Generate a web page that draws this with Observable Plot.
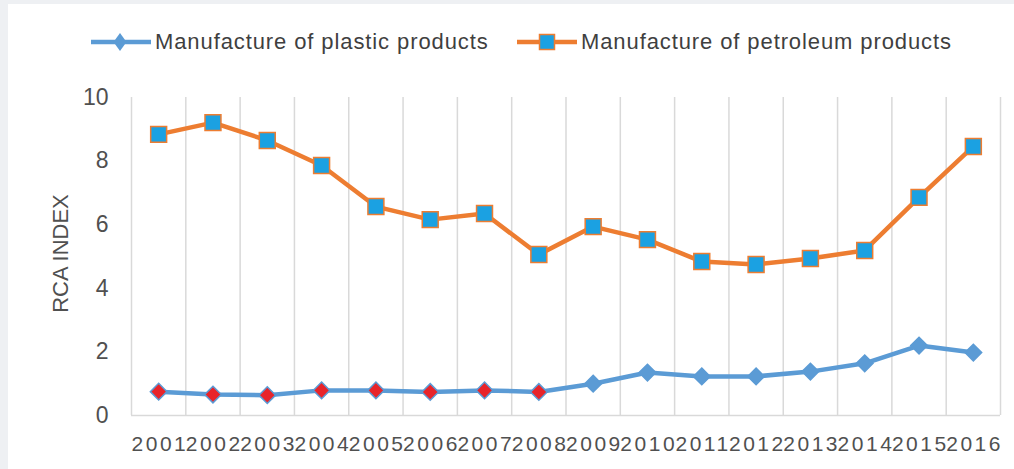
<!DOCTYPE html>
<html>
<head>
<meta charset="utf-8">
<script src="https://cdn.jsdelivr.net/npm/d3@7"></script>
<script src="https://cdn.jsdelivr.net/npm/@observablehq/plot@0.6"></script>
<style>
  body { margin: 0; background: #eef0f3; font-family: "Liberation Sans", Arial, sans-serif; }
  #panel { position: absolute; left: 8px; top: 4px; width: 1006px; height: 465px; background: #fff; overflow: hidden; }
  #legend { position: absolute; left: 0; top: 0; width: 1006px; height: 66px; }
  .item { position: absolute; top: 26px; height: 24px; display: flex; align-items: center; }
  .item span { font-size: 22px; color: #3f3f3f; letter-spacing: 0.9px; white-space: nowrap; margin-left: 4px; }
  #chart { position: absolute; left: 0; top: 66px; }
</style>
</head>
<body>
<div id="panel">
  <div id="legend"></div>
  <div id="chart"></div>
</div>
<script>
const years = [2001, 2002, 2003, 2004, 2005, 2006, 2007, 2008, 2009, 2010, 2011, 2012, 2013, 2014, 2015, 2016];
const plastic = [0.75, 0.66, 0.64, 0.79, 0.79, 0.74, 0.79, 0.74, 1.00, 1.35, 1.23, 1.23, 1.38, 1.64, 2.20, 1.98];
const petroleum = [8.84, 9.21, 8.65, 7.86, 6.57, 6.16, 6.35, 5.06, 5.94, 5.53, 4.84, 4.75, 4.94, 5.19, 6.86, 8.46];
const highlightedYears = [2001, 2002, 2003, 2004, 2005, 2006, 2007, 2008];
const yTicks = [0, 2, 4, 6, 8, 10];
const seriesNames = ["Manufacture of plastic products", "Manufacture of petroleum products"];
const yLabel = "RCA INDEX";

const BLUE = "#5b9bd5", ORANGE = "#ed7d31", SQFILL = "#1ba1e2", RED = "#e8242a";

const plasticData = years.map((year, i) => ({year, value: plastic[i], hi: highlightedYears.includes(year)}));
const petData = years.map((year, i) => ({year, value: petroleum[i]}));
const boundaries = [years[0] - 0.5, ...years.map(y => y + 0.5)];

// Legend
const legend = document.getElementById("legend");
const icons = [
  `<svg width="60" height="24"><line x1="0" y1="12" x2="60" y2="12" stroke="${BLUE}" stroke-width="4.5"/><polygon points="29,3 35.5,12 29,21 22.5,12" fill="${BLUE}"/></svg>`,
  `<svg width="60" height="24"><line x1="0" y1="12" x2="60" y2="12" stroke="${ORANGE}" stroke-width="4.5"/><rect x="22.5" y="4.5" width="15" height="15" fill="${SQFILL}" stroke="${ORANGE}" stroke-width="1.5"/></svg>`
];
const lefts = [83, 509];
seriesNames.forEach((name, i) => {
  const d = document.createElement("div");
  d.className = "item";
  d.style.left = lefts[i] + "px";
  d.innerHTML = icons[i] + `<span>${name}</span>`;
  legend.appendChild(d);
});

const chart = Plot.plot({
  width: 1006,
  height: 399,
  marginTop: 27,
  marginBottom: 54,
  marginLeft: 123,
  marginRight: 14,
  x: {domain: [years[0] - 0.5, years[years.length - 1] + 0.5]},
  y: {domain: [0, 10]},
  style: {fontFamily: "'Liberation Sans', Arial, sans-serif", color: "#505050", background: "transparent", overflow: "visible"},
  marks: [
    Plot.ruleX(boundaries, {stroke: "#d9d9d9", strokeWidth: 1.5}),
    Plot.ruleY([0], {stroke: "#d9d9d9", strokeWidth: 1.5}),
    Plot.axisY({ticks: yTicks, tickSize: 0, tickPadding: 23, fontSize: 23, label: null, tickFormat: d => String(d)}),
    Plot.axisX({ticks: years, tickSize: 0, tickPadding: 21, fontSize: 21, label: null, tickFormat: d => String(d)}),
    Plot.text([yLabel], {frameAnchor: "left", textAnchor: "middle", dx: -71, dy: -3, rotate: -90, fontSize: 22, fill: "#505050"}),
    Plot.line(petData, {x: "year", y: "value", stroke: ORANGE, strokeWidth: 4.5}),
    Plot.line(plasticData, {x: "year", y: "value", stroke: BLUE, strokeWidth: 4.5}),
    Plot.dot(petData, {x: "year", y: "value", symbol: "square", r: 9, fill: SQFILL, stroke: ORANGE, strokeWidth: 1.5}),
    Plot.dot(plasticData.filter(d => !d.hi), {x: "year", y: "value", symbol: "diamond2", r: 7.5, fill: BLUE, stroke: BLUE, strokeWidth: 1.5}),
    Plot.dot(plasticData.filter(d => d.hi), {x: "year", y: "value", symbol: "diamond2", r: 7.5, fill: RED, stroke: BLUE, strokeWidth: 1.5})
  ]
});
chart.querySelectorAll('[aria-label="x-axis tick label"] text').forEach(t => {
  t.setAttribute("letter-spacing", "2.5");
  t.setAttribute("dx", "1.25");
});
document.getElementById("chart").appendChild(chart);
</script>
</body>
</html>
